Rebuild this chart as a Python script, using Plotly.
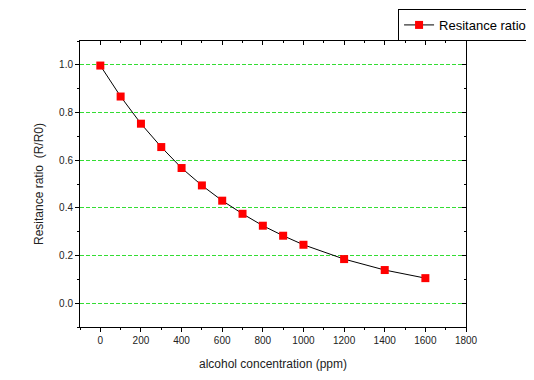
import plotly.graph_objects as go

concentration = [0, 100, 200, 300, 400, 500, 600, 700, 800, 900, 1000, 1200, 1400, 1600]
ratio = [0.997, 0.867, 0.753, 0.655, 0.567, 0.494, 0.43, 0.375, 0.325, 0.283, 0.245, 0.185, 0.139, 0.105]

x_ticks = [0, 200, 400, 600, 800, 1000, 1200, 1400, 1600, 1800]
y_ticks = [0.0, 0.2, 0.4, 0.6, 0.8, 1.0]
x_range = [-100, 1800]
y_range = [-0.1, 1.1]

font = "Liberation Sans, Arial, sans-serif"

fig = go.Figure()
fig.add_trace(go.Scatter(
    x=concentration, y=ratio, mode="lines+markers", name="Resitance ratio",
    line=dict(color="black", width=1),
    marker=dict(symbol="square", size=8, color="#ff0000"),
))

# the page body has an 8px default margin, so the figure is sized/placed to compensate
fig.update_layout(
    width=526, height=372,
    margin=dict(l=72, r=68, t=33, b=53, autoexpand=False),
    paper_bgcolor="white", plot_bgcolor="white",
    font=dict(family=font, color="#222222"),
    showlegend=True,
    legend=dict(x=0.824, y=1.112, xanchor="left", yanchor="top",
                bordercolor="black", borderwidth=1, bgcolor="white",
                font=dict(size=13, color="black"),
                tracegroupgap=0, itemwidth=30),
    xaxis=dict(range=x_range, tickvals=x_ticks, ticks="outside", ticklen=4,
               tickcolor="black", linecolor="black", linewidth=1, showline=True,
               showgrid=False, zeroline=False,
               minor=dict(dtick=100, tick0=0, ticks="outside", ticklen=2, tickcolor="black"),
               tickfont=dict(size=10),
               title=dict(text="alcohol concentration (ppm)", font=dict(size=12), standoff=14)),
    yaxis=dict(range=y_range, tickvals=y_ticks, tickformat=".1f", ticks="outside", ticklen=4,
               tickcolor="black", linecolor="black", linewidth=1, showline=True,
               showgrid=True, gridcolor="#33dd33", griddash="4px,2px", gridwidth=1,
               zeroline=False,
               minor=dict(dtick=0.1, tick0=0, ticks="outside", ticklen=2, tickcolor="black"),
               tickfont=dict(size=10),
               title=dict(text="Resitance ratio  (R/R0)", font=dict(size=12), standoff=12)),
    xaxis2=dict(range=x_range, overlaying="x", side="top", tickvals=x_ticks,
                ticks="inside", ticklen=4, tickcolor="black", showticklabels=False,
                showline=True, linecolor="black", linewidth=1, showgrid=False, zeroline=False,
                minor=dict(dtick=100, tick0=0, ticks="inside", ticklen=2, tickcolor="black")),
    yaxis2=dict(range=y_range, overlaying="y", side="right", tickvals=y_ticks,
                ticks="inside", ticklen=4, tickcolor="black", showticklabels=False,
                showline=True, linecolor="black", linewidth=1, showgrid=False, zeroline=False,
                minor=dict(dtick=0.1, tick0=0, ticks="inside", ticklen=2, tickcolor="black")),
)

# invisible trace to activate the mirror axes
fig.add_trace(go.Scatter(x=[None], y=[None], xaxis="x2", yaxis="y2",
                         showlegend=False, hoverinfo="skip"))

fig.write_html("out.html")
